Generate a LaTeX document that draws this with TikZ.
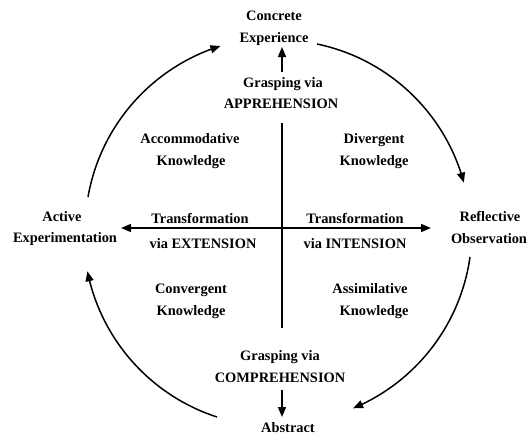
\documentclass[tikz,border=0pt]{standalone}
\usepackage{fontspec}
\setmainfont{Liberation Serif}
\usetikzlibrary{arrows.meta,bending}
\begin{document}
\begin{tikzpicture}[x=1pt,y=-1pt,
  lbl/.style={anchor=base,inner sep=0pt,font=\fontsize{14.4}{16}\selectfont\bfseries},
  conn/.style={line width=1.5pt},
  tip/.style={-{Triangle[length=10pt,width=8pt]}},
  tips/.style={{Triangle[length=10pt,width=8pt]}-{Triangle[length=10pt,width=8pt]}}]
\useasboundingbox[fill=white] (0,0) rectangle (528,437);
% text
\node[lbl] (conc1) at (274,20) {Concrete};
\node[lbl] (conc2) at (274,42) {Experience};
\node[lbl] (grA1) at (283,87) {Grasping via};
\node[lbl] (grA2) at (281,108) {APPREHENSION};
\node[lbl] (acc1) at (190,143) {Accommodative};
\node[lbl] (acc2) at (191,165) {Knowledge};
\node[lbl] (div1) at (374,143) {Divergent};
\node[lbl] (div2) at (374,165) {Knowledge};
\node[lbl] (trL1) at (200,223) {Transformation};
\node[lbl] (trL2) at (203,248) {via EXTENSION};
\node[lbl] (trR1) at (355,223) {Transformation};
\node[lbl] (trR2) at (355,248) {via INTENSION};
\node[lbl] (act1) at (62,221) {Active};
\node[lbl] (act2) at (65,242) {Experimentation};
\node[lbl] (ref1) at (490,221) {Reflective};
\node[lbl] (ref2) at (489,243) {Observation};
\node[lbl] (con1) at (191,293) {Convergent};
\node[lbl] (con2) at (191,315) {Knowledge};
\node[lbl] (asm1) at (370,293) {Assimilative};
\node[lbl] (asm2) at (374,315) {Knowledge};
\node[lbl] (grC1) at (280,360) {Grasping via};
\node[lbl] (grC2) at (280,382) {COMPREHENSION};
\node[lbl] (abs) at (288,432) {Abstract};
% coordinates
\coordinate (vT) at (282,123);
\coordinate (vB) at (282,328);
\coordinate (hL) at (121,228);
\coordinate (hR) at (431,228);
\coordinate (aU1) at (282,72);
\coordinate (aU2) at (282,47);
\coordinate (aD1) at (282,390);
\coordinate (aD2) at (282,417);
\coordinate (c1) at (88,197);
\coordinate (c2) at (317,44);
\coordinate (c3) at (470,257);
\coordinate (c4) at (217,417);
% connectors
\draw[conn] (vT) -- (vB);
\draw[conn,tips] (hL) -- (hR);
\draw[conn,tip] (aU1) -- (aU2);
\draw[conn,tip] (aD1) -- (aD2);
\draw[conn,tip] (c1) arc[start angle=-170.1,end angle=-107.4,radius=193];
\draw[conn,tip] (c2) arc[start angle=-78.2,end angle=-15.1,radius=193];
\draw[conn,tip] (c3) arc[start angle=8,end angle=67.4,radius=193];
\draw[conn,tip] (c4) arc[start angle=108,end angle=168.7,radius=193];
\end{tikzpicture}
\end{document}
